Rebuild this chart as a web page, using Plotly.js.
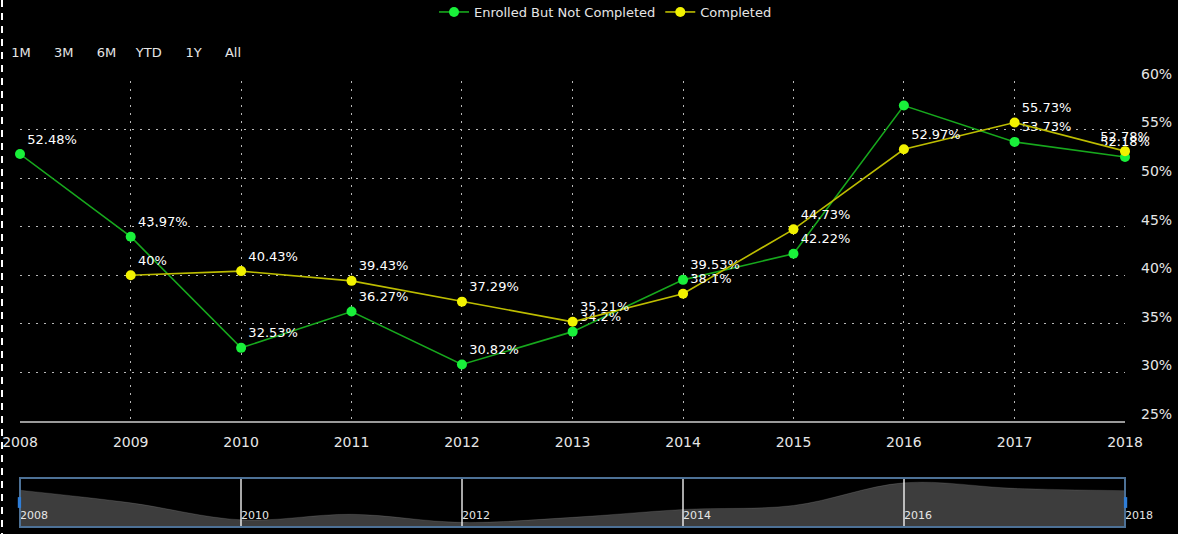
<!DOCTYPE html>
<html>
<head>
<meta charset="utf-8">
<script src="https://cdn.plot.ly/plotly-3.0.1.min.js"></script>
<style>
  html, body { margin: 0; padding: 0; background: #000; }
  #wrap { position: relative; width: 1178px; height: 534px; background: #000; }
  #chart { position: absolute; left: 0; top: 0; width: 1178px; height: 534px; }
  #edge { position: absolute; left: 1px; top: 0; width: 2px; height: 534px; z-index: 5;
          background: repeating-linear-gradient(to bottom, #ffffff 0px, #ffffff 7px, transparent 7px, transparent 13px); }
</style>
</head>
<body>
<div id="wrap"><div id="chart"></div><div id="edge"></div></div>
<script>
// ---- data ----
const years = [2008, 2009, 2010, 2011, 2012, 2013, 2014, 2015, 2016, 2017, 2018];
const enrolledNotCompleted = [52.48, 43.97, 32.53, 36.27, 30.82, 34.2, 39.53, 42.22, 57.47, 53.73, 52.18];
const completed = [null, 40, 40.43, 39.43, 37.29, 35.21, 38.1, 44.73, 52.97, 55.73, 52.78];
// which points carry a visible value label in the reference
const enrolledLabelShown = [true, true, true, true, true, true, true, true, false, true, true];
const seriesNames = ['Enrolled But Not Completed', 'Completed'];
const yTickVals = [25, 30, 35, 40, 45, 50, 55, 60];
const rangeLabels = ['1M', '3M', '6M', 'YTD', '1Y', 'All'];
const rangeSteps = [
  {count: 1, step: 'month', stepmode: 'backward'},
  {count: 3, step: 'month', stepmode: 'backward'},
  {count: 6, step: 'month', stepmode: 'backward'},
  {count: 1, step: 'year', stepmode: 'todate'},
  {count: 1, step: 'year', stepmode: 'backward'},
  {step: 'all'}
];
const rangePad = [2, 2, 2, 1, 2, 3];

// ---- build ----
const dates = years.map(y => y + '-01-01');
const fmt = v => (v === null ? '' : v + '%');
const FONT = 'DejaVu Sans, Verdana, sans-serif';
const NB = '\u00a0';
const lastIdx = years.length - 1;
const textPos = years.map((y, i) => (i === lastIdx ? 'top center' : 'top right'));

const traceEnrolled = {
  x: dates, y: enrolledNotCompleted, name: seriesNames[0],
  type: 'scatter', mode: 'lines+markers+text',
  line: {color: '#17a81d', width: 1.6},
  marker: {color: '#19f03a', size: 10},
  text: enrolledNotCompleted.map((v, i) => enrolledLabelShown[i] ? fmt(v) : ''),
  textposition: textPos,
  textfont: {color: '#ffffff', size: 13, family: FONT},
  cliponaxis: false,
  xaxis: 'x', yaxis: 'y'
};
const traceCompleted = {
  x: dates, y: completed, name: seriesNames[1],
  type: 'scatter', mode: 'lines+markers+text',
  line: {color: '#bdbd00', width: 1.6},
  marker: {color: '#f2f200', size: 10},
  text: completed.map(fmt),
  textposition: textPos,
  textfont: {color: '#ffffff', size: 13, family: FONT},
  cliponaxis: false,
  xaxis: 'x', yaxis: 'y'
};
const traceNavigator = {
  x: dates, y: enrolledNotCompleted, type: 'scatter', mode: 'lines',
  line: {color: 'rgba(255,255,255,0.24)', width: 0.5, shape: 'spline', smoothing: 1},
  fill: 'tozeroy', fillcolor: 'rgba(255,255,255,0.24)',
  showlegend: false, hoverinfo: 'skip',
  xaxis: 'x2', yaxis: 'y2'
};

const buttons = rangeLabels.map((lab, i) => {
  const p = rangePad[i];
  const left = NB.repeat(Math.floor(p / 2)), right = NB.repeat(Math.ceil(p / 2));
  return Object.assign({label: left + lab + right}, rangeSteps[i]);
});

// paper area: top 81px, bottom 534px  -> height 453px
const gridDash = '2px,6px';
const layout = {
  width: 1178, height: 534,
  paper_bgcolor: '#000000', plot_bgcolor: '#000000',
  margin: {l: 20, r: 53, t: 81, b: 0, pad: 0},
  font: {family: FONT, color: '#e6e6e6', size: 13},
  showlegend: true,
  legend: {
    orientation: 'h', xref: 'container', x: 434 / 1178, xanchor: 'left',
    yref: 'container', y: 1 - 12 / 534, yanchor: 'middle',
    font: {family: FONT, color: '#e6e6e6', size: 13}, bgcolor: 'rgba(0,0,0,0)'
  },
  xaxis: {
    type: 'date', range: [dates[0], dates[lastIdx]],
    domain: [0, 1], anchor: 'y',
    tickvals: dates, ticktext: years.map(String), ticklabeloverflow: 'allow',
    showgrid: true, gridcolor: '#b8b8b8', gridwidth: 1, griddash: gridDash,
    showline: true, linecolor: '#9a9a9a', linewidth: 2,
    ticks: '', ticklabelstandoff: 7,
    tickfont: {family: FONT, size: 14, color: '#e6e6e6'},
    zeroline: false, fixedrange: true,
    rangeselector: {
      buttons: buttons,
      x: -0.0167, xanchor: 'left', y: 1.0375, yanchor: 'bottom',
      bgcolor: '#000000', activecolor: '#000000', bordercolor: '#000000', borderwidth: 0,
      font: {family: FONT, size: 13, color: '#e6e6e6'}
    }
  },
  yaxis: {
    domain: [0.2494, 1], anchor: 'x', side: 'right',
    range: [25, 60], tickvals: yTickVals, ticktext: yTickVals.map(v => v + '%'),
    showgrid: true, gridcolor: '#b8b8b8', gridwidth: 1, griddash: gridDash,
    showline: false, zeroline: false, ticks: '',
    ticklabelstandoff: 15, ticklabelshift: -7,
    tickfont: {family: FONT, size: 14, color: '#e6e6e6'},
    fixedrange: true
  },
  xaxis2: {
    type: 'date', range: [dates[0], dates[lastIdx]],
    domain: [0, 1], anchor: 'y2',
    dtick: 'M24', tick0: dates[0], tickformat: '%Y',
    ticklabelposition: 'inside right', ticklabeloverflow: 'allow',
    showgrid: true, gridcolor: '#a8a8a8', gridwidth: 1.5,
    showline: false, zeroline: false, ticks: '',
    tickfont: {family: FONT, size: 11, color: '#e6e6e6'},
    fixedrange: true
  },
  yaxis2: {
    domain: [0.01545, 0.1236], anchor: 'x2', range: [27.7, 60.7],
    showgrid: false, showticklabels: false, zeroline: false, showline: false,
    fixedrange: true
  },
  shapes: [
    {type: 'rect', xref: 'x2 domain', yref: 'y2 domain', x0: 0, x1: 1, y0: 0, y1: 1,
     line: {color: '#4d7196', width: 2}, fillcolor: 'rgba(0,0,0,0)', layer: 'above'},
    {type: 'rect', xref: 'x2 domain', yref: 'y2 domain', x0: -0.002, x1: 0.001, y0: 0.39, y1: 0.61,
     line: {width: 0}, fillcolor: '#2f7ed8', layer: 'above'},
    {type: 'rect', xref: 'x2 domain', yref: 'y2 domain', x0: 0.999, x1: 1.002, y0: 0.39, y1: 0.61,
     line: {width: 0}, fillcolor: '#2f7ed8', layer: 'above'}
  ]
};

Plotly.newPlot('chart', [traceNavigator, traceEnrolled, traceCompleted], layout,
  {displayModeBar: false, responsive: false});
</script>
</body>
</html>
